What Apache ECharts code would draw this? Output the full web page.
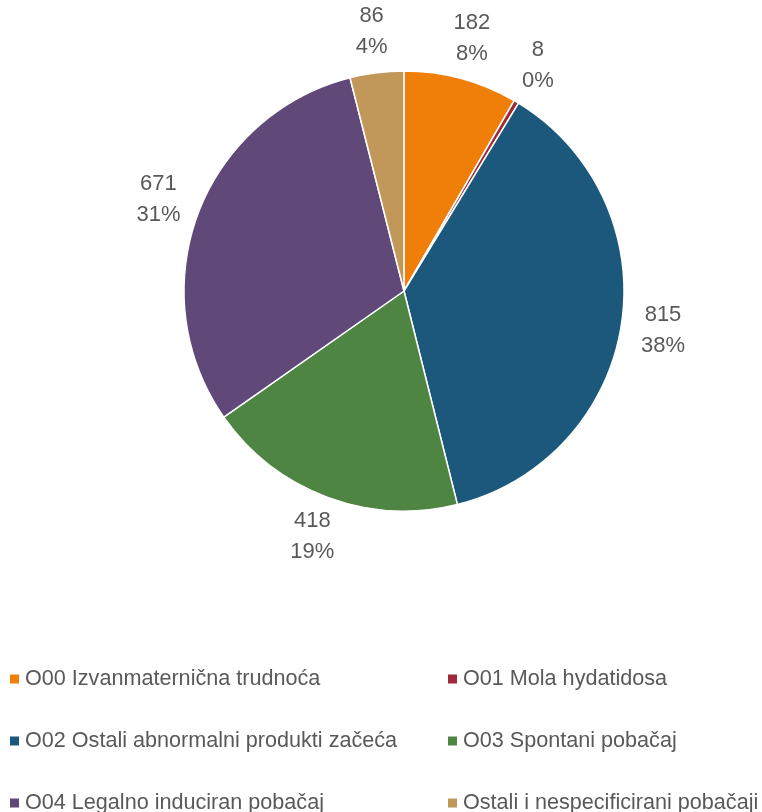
<!DOCTYPE html>
<html>
<head>
<meta charset="utf-8">
<script src="https://cdn.jsdelivr.net/npm/echarts@6/dist/echarts.min.js"></script>
<style>
html,body{margin:0;padding:0;background:#fff;}
#chart{width:762px;height:812px;}
</style>
</head>
<body>
<div id="chart"></div>
<script>
const categories = [
  'O00 Izvanmaternična trudnoća',
  'O01 Mola hydatidosa',
  'O02 Ostali abnormalni produkti začeća',
  'O03 Spontani pobačaj',
  'O04 Legalno induciran pobačaj',
  'Ostali i nespecificirani pobačaji'
];
const values = [182, 8, 815, 418, 671, 86];
const colors = ['#F07F09', '#9F2936', '#1B587C', '#4E8542', '#604878', '#C19859'];

const FONT = '"Liberation Sans", Arial, sans-serif';
const chart = echarts.init(document.getElementById('chart'), null, {renderer: 'canvas'});
chart.setOption({
  animation: false,
  color: colors,
  legend: {
    left: 3,
    top: 643,
    width: 880,
    orient: 'horizontal',
    icon: 'rect',
    itemWidth: 11,
    itemHeight: 11,
    itemGap: 0,
    selectedMode: false,
    textStyle: {
      fontFamily: FONT,
      fontSize: 21.6,
      color: '#595959',
      width: 421,
      lineHeight: 62
    },
    data: categories
  },
  series: [{
    type: 'pie',
    center: [404, 291],
    radius: 220,
    startAngle: 90,
    clockwise: true,
    avoidLabelOverlap: false,
    percentPrecision: 0,
    itemStyle: {borderColor: '#ffffff', borderWidth: 1.5},
    label: {
      show: true,
      position: 'outside',
      formatter: '{c}\n{d}%',
      fontFamily: FONT,
      fontSize: 22,
      lineHeight: 31,
      color: '#595959',
      distanceToLabelLine: 0
    },
    labelLine: {show: false, length: 42, length2: 0},
    labelLayout: function () { return {align: 'center', verticalAlign: 'middle'}; },
    emphasis: {disabled: true},
    data: categories.map((c, i) => ({name: c, value: values[i]}))
  }]
});
</script>
</body>
</html>
